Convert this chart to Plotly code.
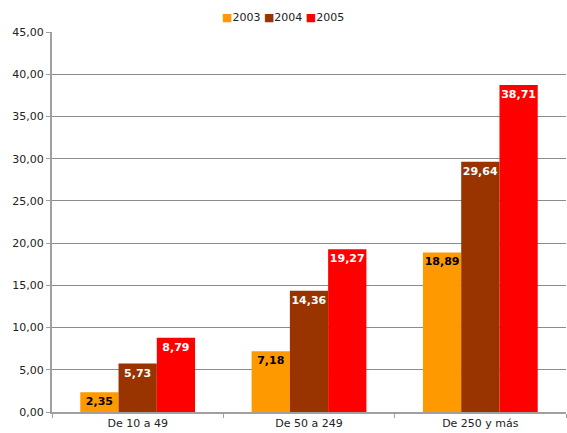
import plotly.graph_objects as go

categories = ["De 10 a 49", "De 50 a 249", "De 250 y más"]
years = ["2003", "2004", "2005"]
values_2003 = [2.35, 7.18, 18.89]
values_2004 = [5.73, 14.36, 29.64]
values_2005 = [8.79, 19.27, 38.71]
y_ticks = [0, 5, 10, 15, 20, 25, 30, 35, 40, 45]

colors = ["#FF9900", "#993300", "#FF0000"]
text_colors = ["#000000", "#FFFFFF", "#FFFFFF"]

fig = go.Figure()
for year, vals, c, tc in zip(years, [values_2003, values_2004, values_2005], colors, text_colors):
    fig.add_trace(go.Bar(
        x=categories, y=vals, name=year,
        marker=dict(color=c, line=dict(width=0)),
        texttemplate="<b>%{y:.2f}</b>", textposition="inside", textangle=0,
        insidetextanchor="end", constraintext="none",
        textfont=dict(color=tc, size=11, family="DejaVu Sans"),
        showlegend=False,
    ))

# legend drawn as a text line at the top, like the original
legend_text = "&nbsp;".join(
    f"<span style='color:{c}'>■</span>{y}" for y, c in zip(years, colors)
)
fig.add_annotation(text=legend_text, xref="paper", yref="paper", x=0.45, y=1.0,
                   yshift=15, xanchor="center", yanchor="middle", showarrow=False,
                   font=dict(size=11, color="#222222", family="DejaVu Sans"))

fig.update_layout(
    width=567, height=433,
    barmode="group", bargap=0.33, bargroupgap=0,
    separators=",.",
    paper_bgcolor="white", plot_bgcolor="white",
    font=dict(family="DejaVu Sans", size=11, color="#222222"),
    margin=dict(l=52, r=1, t=32, b=21, autoexpand=False),
    xaxis=dict(showline=True, linecolor="#A0A0A0", linewidth=2, automargin=False,
               ticks="outside", tickson="boundaries", ticklen=4, tickcolor="#A0A0A0",
               tickfont=dict(size=11, color="#222222")),
    yaxis=dict(range=[0, 45], tickvals=y_ticks, tickformat=".2f", automargin=False,
               showline=True, linecolor="#A0A0A0", linewidth=2,
               ticks="outside", ticklen=4, tickcolor="#A0A0A0",
               showgrid=True, gridcolor="#8C8C8C", gridwidth=1,
               zeroline=False, tickfont=dict(size=11, color="#222222")),
)

fig.write_html("out.html", config={"displayModeBar": False},
               post_script="document.body.style.margin='0';document.body.style.overflow='hidden';")
